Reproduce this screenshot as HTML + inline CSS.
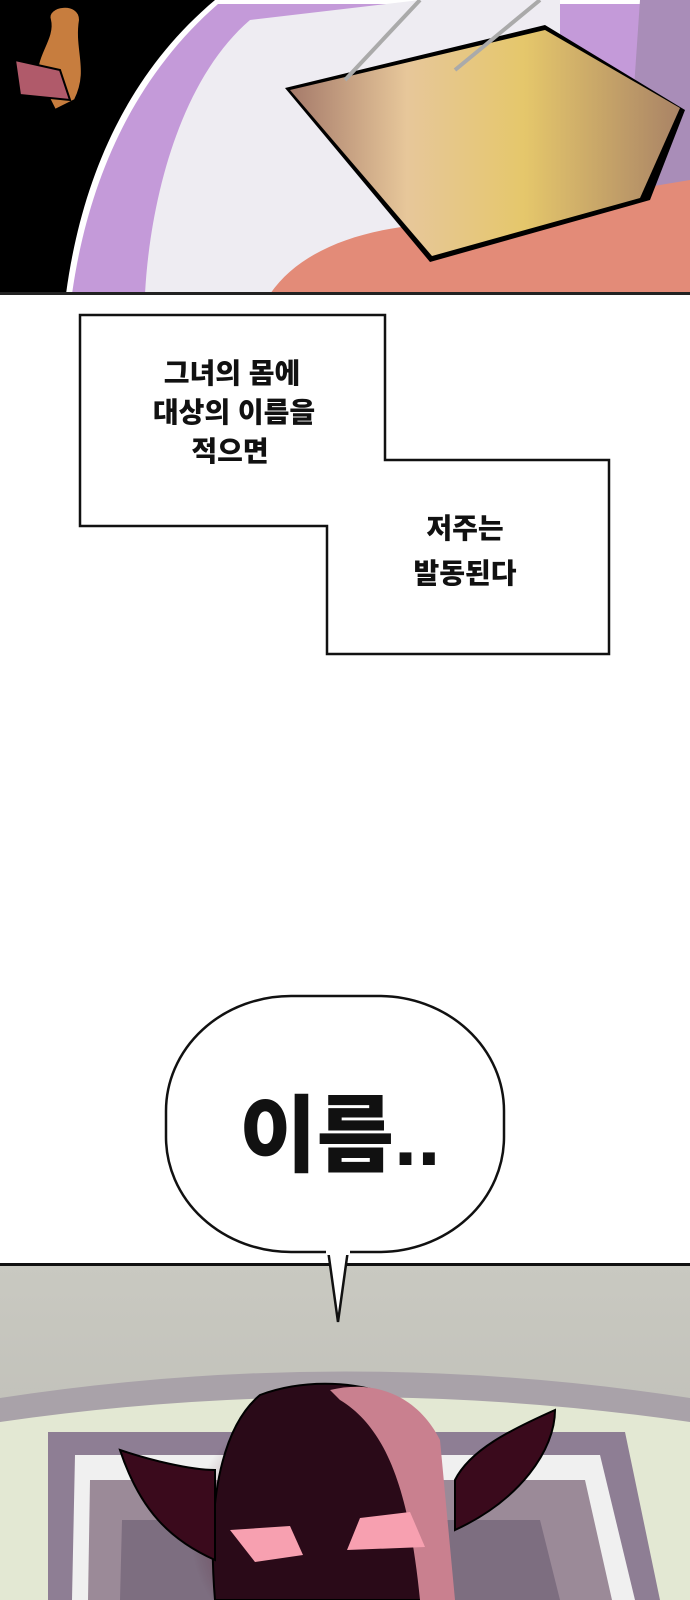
<!DOCTYPE html>
<html><head><meta charset="utf-8"><style>
html,body{margin:0;padding:0;background:#fff;}
body{width:690px;height:1600px;position:relative;overflow:hidden;}
svg{position:absolute;left:0;top:0;}
</style></head><body>
<svg width="690" height="1600" viewBox="0 0 690 1600" xmlns="http://www.w3.org/2000/svg">
<defs>
<linearGradient id="wall" x1="0" y1="0" x2="0" y2="1"><stop offset="0" stop-color="#c9c9c1"/><stop offset="1" stop-color="#b9b8b2"/></linearGradient>
<linearGradient id="yel" x1="0" y1="0" x2="1" y2="0"><stop offset="0" stop-color="#a57a6a"/><stop offset="0.3" stop-color="#e7c79a"/><stop offset="0.6" stop-color="#e5c76b"/><stop offset="1" stop-color="#a98366"/></linearGradient>
<radialGradient id="glow" cx="0.5" cy="0.5" r="0.5"><stop offset="0" stop-color="#ff4d7a"/><stop offset="1" stop-color="#3a0818" stop-opacity="0"/></radialGradient>
</defs>
<rect x="0" y="0" width="690" height="294" fill="#000"/>
<path d="M66 294 C80 190 120 80 215 0 L690 0 L690 294 Z" fill="#fff"/>
<path d="M72 294 C86 195 125 85 218 4 L690 4 L690 294 Z" fill="#c49ad9"/>
<path d="M145 294 C150 200 180 80 250 20 L420 0 L560 0 L560 294 Z" fill="#eeecf2"/>
<path d="M640 0 L690 0 L690 294 L620 294 Z" fill="#a98db8"/>
<path d="M270 294 C300 250 360 230 420 225 L690 180 L690 294 Z" fill="#e38b78"/>
<path d="M285 88 L545 25 L685 110 L650 200 L430 262 Z" fill="#000"/>
<path d="M290 90 L545 30 L680 108 L640 198 L432 256 Z" fill="url(#yel)"/>
<path d="M345 80 L420 0 M455 70 L540 0" stroke="#aaa" stroke-width="4"/>
<path d="M50 20 C45 5 80 0 80 20 C75 50 90 70 75 100 L55 110 L40 80 C30 60 55 40 50 20Z" fill="#c77d3e" stroke="#000" stroke-width="2"/>
<path d="M15 60 L60 70 L70 100 L20 95 Z" fill="#b05a6a" stroke="#000" stroke-width="2"/>
<rect x="0" y="292" width="690" height="3" fill="#222"/>
<path d="M80 315 L385 315 L385 460 L609 460 L609 654 L327 654 L327 526 L80 526 Z" fill="#fff" stroke="#111" stroke-width="2.5"/>
<g font-family="'Liberation Sans','Noto Sans CJK KR',sans-serif" font-weight="900" font-size="28" fill="#111" text-anchor="middle">
<text x="232" y="383">그녀의 몸에</text>
<text x="234" y="422">대상의 이름을</text>
<text x="230" y="461">적으면</text>
<text x="465" y="538">저주는</text>
<text x="465" y="583">발동된다</text>
</g>
<rect x="0" y="1265" width="690" height="335" fill="url(#wall)"/>
<path d="M0 1410 Q345 1360 690 1410 L690 1600 L0 1600 Z" fill="#e3e8d3"/>
<path d="M0 1398 Q345 1345 690 1398 L690 1422 Q345 1372 0 1422 Z" fill="#a9a2a9"/>
<path d="M48 1600 L48 1432 L625 1432 L660 1600 Z" fill="#8e7e94"/>
<path d="M72 1600 L75 1455 L600 1455 L635 1600 Z" fill="#f0f0f0"/>
<path d="M88 1600 L90 1480 L585 1480 L612 1600 Z" fill="#9b8a98"/>
<path d="M120 1600 L122 1520 L540 1520 L560 1600 Z" fill="#7d6e80"/>
<rect x="0" y="1263" width="690" height="3" fill="#111"/>
<ellipse cx="300" cy="1530" rx="110" ry="120" fill="url(#glow)"/>
<path d="M215 1600 C205 1480 230 1420 260 1395 C300 1380 350 1380 390 1395 C430 1420 445 1480 445 1600 Z" fill="#2a0a18" stroke="#000" stroke-width="2"/>
<path d="M330 1390 C380 1378 420 1400 440 1440 L455 1600 L420 1600 C410 1500 390 1430 340 1400 Z" fill="#c9808f"/>
<path d="M120 1450 C150 1460 190 1470 215 1470 L215 1560 C170 1540 140 1510 120 1450Z" fill="#3a0a1c" stroke="#000" stroke-width="2"/>
<path d="M455 1530 C520 1500 555 1450 555 1410 C510 1430 470 1450 455 1480 Z" fill="#3a0a1c" stroke="#000" stroke-width="2"/>
<path d="M230 1530 L290 1526 L303 1555 L255 1562 Z" fill="#f7a0b0"/>
<path d="M360 1518 L410 1512 L425 1547 L347 1550 Z" fill="#f7a0b0"/>
<path d="M328 1250 L338 1322 L348 1250" fill="#fff" stroke="#111" stroke-width="2.5"/>
<rect x="166" y="996" width="338" height="256" rx="125" ry="115" fill="#fff" stroke="#111" stroke-width="2.5"/>
<rect x="326" y="1245" width="24" height="10" fill="#fff"/>
<text x="340" y="1165" text-anchor="middle" font-family="'Liberation Sans','Noto Sans CJK KR',sans-serif" font-weight="900" font-size="84" fill="#111">이름..</text>
</svg>
</body></html>
